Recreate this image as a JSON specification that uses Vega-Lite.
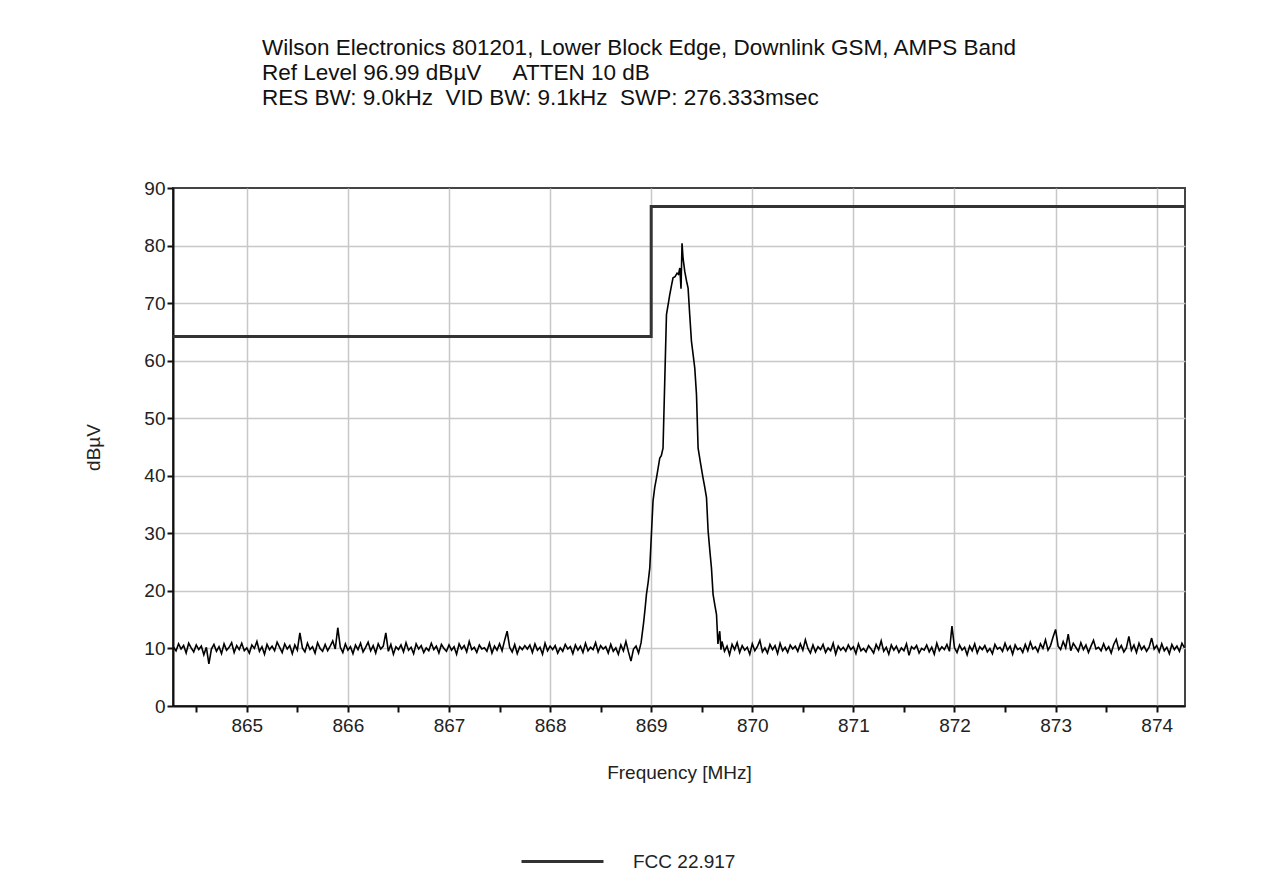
{
  "$schema": "https://vega.github.io/schema/vega-lite/v6.json",
  "width": 1012,
  "height": 518,
  "padding": {"left": 84, "top": 37, "right": 10, "bottom": 10},
  "background": "white",
  "title": {
    "text": ["Wilson Electronics 801201, Lower Block Edge, Downlink GSM, AMPS Band", "Ref Level 96.99 dBµV\u00a0\u00a0\u00a0\u00a0\u00a0ATTEN 10 dB", "RES BW: 9.0kHz\u00a0\u00a0VID BW: 9.1kHz\u00a0\u00a0SWP: 276.333msec"],
    "anchor": "start",
    "frame": "group",
    "dx": 89,
    "fontSize": 22.5,
    "fontWeight": "normal",
    "font": "Liberation Sans",
    "color": "#111",
    "lineHeight": 25,
    "offset": 69.5
  },
  "config": {
    "font": "Liberation Sans",
    "view": {"stroke": "#444", "strokeWidth": 2},
    "axis": {
      "labelFont": "Liberation Sans",
      "titleFont": "Liberation Sans",
      "labelFontSize": 19,
      "titleFontSize": 19,
      "titleFontWeight": "normal",
      "labelColor": "#222",
      "titleColor": "#222",
      "domainColor": "#111",
      "domainWidth": 2,
      "tickColor": "#111",
      "tickWidth": 2,
      "tickSize": 6,
      "gridColor": "#c8c8c8",
      "gridWidth": 1.5
    }
  },
  "datasets": {
    "trace": [
      {"f":864.275,"v":10.2},{"f":864.300,"v":9.6},{"f":864.325,"v":10.8},{"f":864.350,"v":9.9},{"f":864.375,"v":10.5},{"f":864.400,"v":9.2},{"f":864.425,"v":10.9},{"f":864.450,"v":10.1},{"f":864.475,"v":9.4},{"f":864.500,"v":10.6},
      {"f":864.525,"v":9.8},{"f":864.550,"v":10.4},{"f":864.575,"v":8.9},{"f":864.600,"v":10.2},{"f":864.625,"v":7.3},{"f":864.650,"v":9.9},{"f":864.675,"v":10.7},{"f":864.700,"v":9.5},{"f":864.725,"v":10.3},{"f":864.750,"v":9.1},
      {"f":864.775,"v":10.8},{"f":864.800,"v":9.7},{"f":864.825,"v":10.2},{"f":864.850,"v":11.0},{"f":864.875,"v":9.3},{"f":864.900,"v":10.5},{"f":864.925,"v":9.8},{"f":864.950,"v":10.9},{"f":864.975,"v":9.6},{"f":865.000,"v":10.1},
      {"f":865.025,"v":9.2},{"f":865.050,"v":10.6},{"f":865.075,"v":10.0},{"f":865.100,"v":11.2},{"f":865.125,"v":9.5},{"f":865.150,"v":10.3},{"f":865.175,"v":9.0},{"f":865.200,"v":10.7},{"f":865.225,"v":9.8},{"f":865.250,"v":10.4},
      {"f":865.275,"v":9.6},{"f":865.300,"v":11.1},{"f":865.325,"v":10.2},{"f":865.350,"v":9.3},{"f":865.375,"v":10.8},{"f":865.400,"v":9.9},{"f":865.425,"v":10.5},{"f":865.450,"v":9.1},{"f":865.475,"v":10.6},{"f":865.500,"v":9.7},
      {"f":865.525,"v":12.7},{"f":865.550,"v":10.1},{"f":865.575,"v":9.4},{"f":865.600,"v":10.9},{"f":865.625,"v":9.8},{"f":865.650,"v":10.3},{"f":865.675,"v":9.2},{"f":865.700,"v":11.0},{"f":865.725,"v":10.0},{"f":865.750,"v":9.5},
      {"f":865.775,"v":10.7},{"f":865.800,"v":9.6},{"f":865.825,"v":10.4},{"f":865.850,"v":11.3},{"f":865.875,"v":9.9},{"f":865.900,"v":13.6},{"f":865.925,"v":10.2},{"f":865.950,"v":9.3},{"f":865.975,"v":10.8},{"f":866.000,"v":9.7},
      {"f":866.025,"v":10.3},{"f":866.050,"v":9.1},{"f":866.075,"v":10.6},{"f":866.100,"v":9.8},{"f":866.125,"v":10.9},{"f":866.150,"v":9.4},{"f":866.175,"v":10.2},{"f":866.200,"v":11.1},{"f":866.225,"v":9.6},{"f":866.250,"v":10.5},
      {"f":866.275,"v":9.2},{"f":866.300,"v":10.8},{"f":866.325,"v":9.9},{"f":866.350,"v":10.4},{"f":866.375,"v":12.7},{"f":866.400,"v":9.5},{"f":866.425,"v":10.7},{"f":866.450,"v":9.0},{"f":866.475,"v":10.3},{"f":866.500,"v":9.8},
      {"f":866.525,"v":10.6},{"f":866.550,"v":9.4},{"f":866.575,"v":11.0},{"f":866.600,"v":9.7},{"f":866.625,"v":10.2},{"f":866.650,"v":9.1},{"f":866.675,"v":10.8},{"f":866.700,"v":9.9},{"f":866.725,"v":10.5},{"f":866.750,"v":9.3},
      {"f":866.775,"v":10.1},{"f":866.800,"v":9.6},{"f":866.825,"v":10.9},{"f":866.850,"v":9.8},{"f":866.875,"v":10.4},{"f":866.900,"v":9.2},{"f":866.925,"v":10.7},{"f":866.950,"v":10.0},{"f":866.975,"v":9.5},{"f":867.000,"v":10.6},
      {"f":867.025,"v":9.7},{"f":867.050,"v":10.3},{"f":867.075,"v":9.0},{"f":867.100,"v":10.8},{"f":867.125,"v":9.9},{"f":867.150,"v":10.5},{"f":867.175,"v":9.4},{"f":867.200,"v":11.2},{"f":867.225,"v":9.8},{"f":867.250,"v":10.2},
      {"f":867.275,"v":9.3},{"f":867.300,"v":10.6},{"f":867.325,"v":9.9},{"f":867.350,"v":10.1},{"f":867.375,"v":9.5},{"f":867.400,"v":10.9},{"f":867.425,"v":9.2},{"f":867.450,"v":10.4},{"f":867.475,"v":9.7},{"f":867.500,"v":10.8},
      {"f":867.525,"v":9.6},{"f":867.550,"v":11.4},{"f":867.575,"v":13.0},{"f":867.600,"v":10.2},{"f":867.625,"v":9.4},{"f":867.650,"v":10.7},{"f":867.675,"v":9.1},{"f":867.700,"v":10.3},{"f":867.725,"v":9.8},{"f":867.750,"v":10.5},
      {"f":867.775,"v":9.9},{"f":867.800,"v":10.6},{"f":867.825,"v":9.3},{"f":867.850,"v":10.8},{"f":867.875,"v":9.7},{"f":867.900,"v":10.2},{"f":867.925,"v":9.0},{"f":867.950,"v":10.9},{"f":867.975,"v":9.6},{"f":868.000,"v":10.4},
      {"f":868.025,"v":9.8},{"f":868.050,"v":10.5},{"f":868.075,"v":9.2},{"f":868.100,"v":10.1},{"f":868.125,"v":9.5},{"f":868.150,"v":10.7},{"f":868.175,"v":9.9},{"f":868.200,"v":10.3},{"f":868.225,"v":9.1},{"f":868.250,"v":10.6},
      {"f":868.275,"v":9.7},{"f":868.300,"v":10.4},{"f":868.325,"v":9.3},{"f":868.350,"v":10.9},{"f":868.375,"v":9.6},{"f":868.400,"v":10.2},{"f":868.425,"v":9.8},{"f":868.450,"v":11.0},{"f":868.475,"v":9.4},{"f":868.500,"v":10.5},
      {"f":868.525,"v":9.9},{"f":868.550,"v":10.3},{"f":868.575,"v":9.2},{"f":868.600,"v":10.7},{"f":868.625,"v":9.5},{"f":868.650,"v":10.1},{"f":868.675,"v":9.0},{"f":868.700,"v":10.6},{"f":868.725,"v":9.6},{"f":868.750,"v":11.2},
      {"f":868.775,"v":9.4},{"f":868.800,"v":7.8},{"f":868.825,"v":9.9},{"f":868.850,"v":10.4},{"f":868.875,"v":9.2},
      {"f":868.900,"v":11.0},{"f":868.925,"v":14.5},{"f":868.940,"v":17.0},{"f":868.953,"v":19.4},{"f":868.970,"v":21.5},{"f":868.986,"v":24.0},{"f":869.002,"v":29.8},{"f":869.018,"v":35.6},{"f":869.035,"v":38.0},{"f":869.052,"v":39.6},
      {"f":869.070,"v":41.5},{"f":869.085,"v":43.1},{"f":869.100,"v":43.5},{"f":869.117,"v":44.8},{"f":869.134,"v":56.4},{"f":869.151,"v":68.0},{"f":869.170,"v":70.0},{"f":869.184,"v":71.5},{"f":869.200,"v":73.0},{"f":869.216,"v":74.4},
      {"f":869.236,"v":74.6},{"f":869.256,"v":75.2},{"f":869.270,"v":75.0},{"f":869.283,"v":76.1},{"f":869.295,"v":72.5},{"f":869.305,"v":80.4},{"f":869.315,"v":77.8},{"f":869.332,"v":75.5},{"f":869.350,"v":73.8},{"f":869.365,"v":72.6},
      {"f":869.381,"v":68.0},{"f":869.398,"v":63.4},{"f":869.415,"v":61.0},{"f":869.431,"v":58.7},{"f":869.448,"v":54.1},{"f":869.464,"v":44.8},{"f":869.490,"v":42.0},{"f":869.513,"v":39.6},{"f":869.530,"v":38.0},{"f":869.547,"v":36.2},
      {"f":869.563,"v":30.4},{"f":869.580,"v":27.0},{"f":869.596,"v":24.0},{"f":869.612,"v":19.4},{"f":869.630,"v":17.5},{"f":869.646,"v":15.9},{"f":869.660,"v":10.8},{"f":869.678,"v":13.0},{"f":869.690,"v":9.8},
      {"f":869.700,"v":11.2},{"f":869.725,"v":9.5},{"f":869.750,"v":10.4},{"f":869.775,"v":8.9},{"f":869.800,"v":10.7},{"f":869.825,"v":9.8},{"f":869.850,"v":11.0},{"f":869.875,"v":9.3},{"f":869.900,"v":10.5},{"f":869.925,"v":9.7},
      {"f":869.950,"v":10.2},{"f":869.975,"v":9.0},{"f":870.000,"v":10.8},{"f":870.025,"v":9.6},{"f":870.050,"v":10.3},{"f":870.075,"v":11.4},{"f":870.100,"v":9.4},{"f":870.125,"v":10.1},{"f":870.150,"v":9.2},{"f":870.175,"v":10.7},
      {"f":870.200,"v":9.8},{"f":870.225,"v":10.5},{"f":870.250,"v":9.1},{"f":870.275,"v":10.9},{"f":870.300,"v":9.6},{"f":870.325,"v":10.2},{"f":870.350,"v":9.3},{"f":870.375,"v":10.6},{"f":870.400,"v":9.9},{"f":870.425,"v":10.4},
      {"f":870.450,"v":9.5},{"f":870.475,"v":10.8},{"f":870.500,"v":9.7},{"f":870.525,"v":11.5},{"f":870.550,"v":10.0},{"f":870.575,"v":9.2},{"f":870.600,"v":10.6},{"f":870.625,"v":9.4},{"f":870.650,"v":10.3},{"f":870.675,"v":9.8},
      {"f":870.700,"v":10.7},{"f":870.725,"v":9.3},{"f":870.750,"v":10.1},{"f":870.775,"v":9.6},{"f":870.800,"v":10.9},{"f":870.825,"v":9.0},{"f":870.850,"v":10.4},{"f":870.875,"v":9.7},{"f":870.900,"v":10.2},{"f":870.925,"v":9.5},
      {"f":870.950,"v":10.6},{"f":870.975,"v":9.8},{"f":871.000,"v":10.3},{"f":871.025,"v":9.1},{"f":871.050,"v":10.8},{"f":871.075,"v":9.6},{"f":871.100,"v":10.0},{"f":871.125,"v":9.4},{"f":871.150,"v":10.5},{"f":871.175,"v":9.9},
      {"f":871.200,"v":9.2},{"f":871.225,"v":10.7},{"f":871.250,"v":9.8},{"f":871.275,"v":11.3},{"f":871.300,"v":9.5},{"f":871.325,"v":10.2},{"f":871.350,"v":9.0},{"f":871.375,"v":10.6},{"f":871.400,"v":9.7},{"f":871.425,"v":10.4},
      {"f":871.450,"v":9.3},{"f":871.475,"v":10.1},{"f":871.500,"v":9.6},{"f":871.525,"v":10.8},{"f":871.550,"v":8.8},{"f":871.575,"v":10.3},{"f":871.600,"v":9.9},{"f":871.625,"v":10.5},{"f":871.650,"v":9.2},{"f":871.675,"v":10.0},
      {"f":871.700,"v":9.7},{"f":871.725,"v":10.6},{"f":871.750,"v":9.4},{"f":871.775,"v":10.2},{"f":871.800,"v":9.0},{"f":871.825,"v":10.9},{"f":871.850,"v":9.6},{"f":871.875,"v":10.3},{"f":871.900,"v":9.8},{"f":871.925,"v":10.7},
      {"f":871.950,"v":9.5},{"f":871.975,"v":13.9},{"f":872.000,"v":10.1},{"f":872.025,"v":9.3},{"f":872.050,"v":10.6},{"f":872.075,"v":9.7},{"f":872.100,"v":10.2},{"f":872.125,"v":8.9},{"f":872.150,"v":10.4},{"f":872.175,"v":9.6},
      {"f":872.200,"v":10.8},{"f":872.225,"v":9.2},{"f":872.250,"v":10.3},{"f":872.275,"v":9.8},{"f":872.300,"v":10.5},{"f":872.325,"v":9.4},{"f":872.350,"v":10.0},{"f":872.375,"v":9.1},{"f":872.400,"v":10.7},{"f":872.425,"v":9.9},
      {"f":872.450,"v":10.2},{"f":872.475,"v":9.5},{"f":872.500,"v":10.9},{"f":872.525,"v":9.7},{"f":872.550,"v":10.4},{"f":872.575,"v":9.0},{"f":872.600,"v":10.6},{"f":872.625,"v":9.8},{"f":872.650,"v":10.1},{"f":872.675,"v":9.3},
      {"f":872.700,"v":10.7},{"f":872.725,"v":9.6},{"f":872.750,"v":11.1},{"f":872.775,"v":9.9},{"f":872.800,"v":10.3},{"f":872.825,"v":9.4},{"f":872.850,"v":10.8},{"f":872.875,"v":10.0},{"f":872.900,"v":11.5},{"f":872.925,"v":9.7},
      {"f":872.950,"v":10.5},{"f":872.975,"v":12.0},{"f":873.000,"v":13.3},{"f":873.025,"v":10.4},{"f":873.050,"v":9.8},{"f":873.075,"v":11.2},{"f":873.100,"v":10.1},{"f":873.125,"v":12.5},{"f":873.150,"v":9.6},{"f":873.175,"v":10.9},
      {"f":873.200,"v":10.2},{"f":873.225,"v":9.5},{"f":873.250,"v":11.0},{"f":873.275,"v":9.8},{"f":873.300,"v":10.6},{"f":873.325,"v":9.3},{"f":873.350,"v":10.4},{"f":873.375,"v":11.4},{"f":873.400,"v":9.9},{"f":873.425,"v":10.2},
      {"f":873.450,"v":9.6},{"f":873.475,"v":10.8},{"f":873.500,"v":9.7},{"f":873.525,"v":10.3},{"f":873.550,"v":9.2},{"f":873.575,"v":10.7},{"f":873.600,"v":11.6},{"f":873.625,"v":9.8},{"f":873.650,"v":10.5},{"f":873.675,"v":9.4},
      {"f":873.700,"v":10.1},{"f":873.725,"v":12.1},{"f":873.750,"v":9.7},{"f":873.775,"v":10.6},{"f":873.800,"v":9.3},{"f":873.825,"v":10.9},{"f":873.850,"v":9.8},{"f":873.875,"v":10.4},{"f":873.900,"v":9.5},{"f":873.925,"v":10.2},
      {"f":873.950,"v":11.8},{"f":873.975,"v":9.9},{"f":874.000,"v":10.5},{"f":874.025,"v":9.4},{"f":874.050,"v":10.8},{"f":874.075,"v":9.6},{"f":874.100,"v":10.2},{"f":874.125,"v":9.1},{"f":874.150,"v":10.7},{"f":874.175,"v":9.8},
      {"f":874.200,"v":10.4},{"f":874.225,"v":9.5},{"f":874.250,"v":10.9},{"f":874.275,"v":10.1}
    ],
    "limit": [
      {"o": 1, "f": 864.27, "l": 64.2},
      {"o": 2, "f": 869.0, "l": 64.2},
      {"o": 3, "f": 869.0, "l": 86.8},
      {"o": 4, "f": 874.28, "l": 86.8}
    ]
  },
  "layer": [
    {
      "data": {"name": "trace"},
      "mark": {"type": "line", "color": "#000", "strokeWidth": 1.6, "clip": true},
      "encoding": {
        "x": {
          "field": "f", "type": "quantitative",
          "scale": {"domain": [864.27, 874.28], "nice": false, "zero": false},
          "axis": {
            "title": "Frequency [MHz]",
            "values": [864.5, 865, 865.5, 866, 866.5, 867, 867.5, 868, 868.5, 869, 869.5, 870, 870.5, 871, 871.5, 872, 872.5, 873, 873.5, 874],
            "labelExpr": "datum.value % 1 === 0 ? format(datum.value, 'd') : ''",
            "gridOpacity": {"condition": {"test": "datum.value % 1 === 0", "value": 1}, "value": 0},
            "labelPadding": 4,
            "titlePadding": 28,
            "labelFlush": false,
            "labelOverlap": false
          }
        },
        "y": {
          "field": "v", "type": "quantitative",
          "scale": {"domain": [0, 90], "nice": false},
          "axis": {
            "title": "dBµV",
            "values": [0, 5, 10, 15, 20, 25, 30, 35, 40, 45, 50, 55, 60, 65, 70, 75, 80, 85, 90],
            "labelExpr": "datum.value % 10 === 0 ? format(datum.value, 'd') : ''",
            "gridOpacity": {"condition": {"test": "datum.value % 10 === 0 && datum.value > 0 && datum.value < 90", "value": 1}, "value": 0},
            "labelPadding": 2,
            "titlePadding": 40,
            "labelFlush": false,
            "labelOverlap": false
          }
        }
      }
    },
    {
      "data": {"name": "limit"},
      "mark": {"type": "line", "strokeWidth": 3, "interpolate": "linear"},
      "encoding": {
        "x": {"field": "f", "type": "quantitative"},
        "y": {"field": "l", "type": "quantitative"},
        "order": {"field": "o", "type": "quantitative"},
        "color": {
          "datum": "FCC 22.917",
          "type": "nominal",
          "scale": {"range": ["#333"]},
          "legend": {
            "title": null,
            "orient": "none",
            "legendX": 347,
            "legendY": 631,
            "direction": "horizontal",
            "symbolType": "stroke",
            "symbolSize": 6724,
            "symbolStrokeWidth": 3,
            "labelFontSize": 19,
            "labelFont": "Liberation Sans",
            "labelColor": "#222",
            "labelOffset": 28,
            "padding": 0
          }
        }
      }
    }
  ]
}
